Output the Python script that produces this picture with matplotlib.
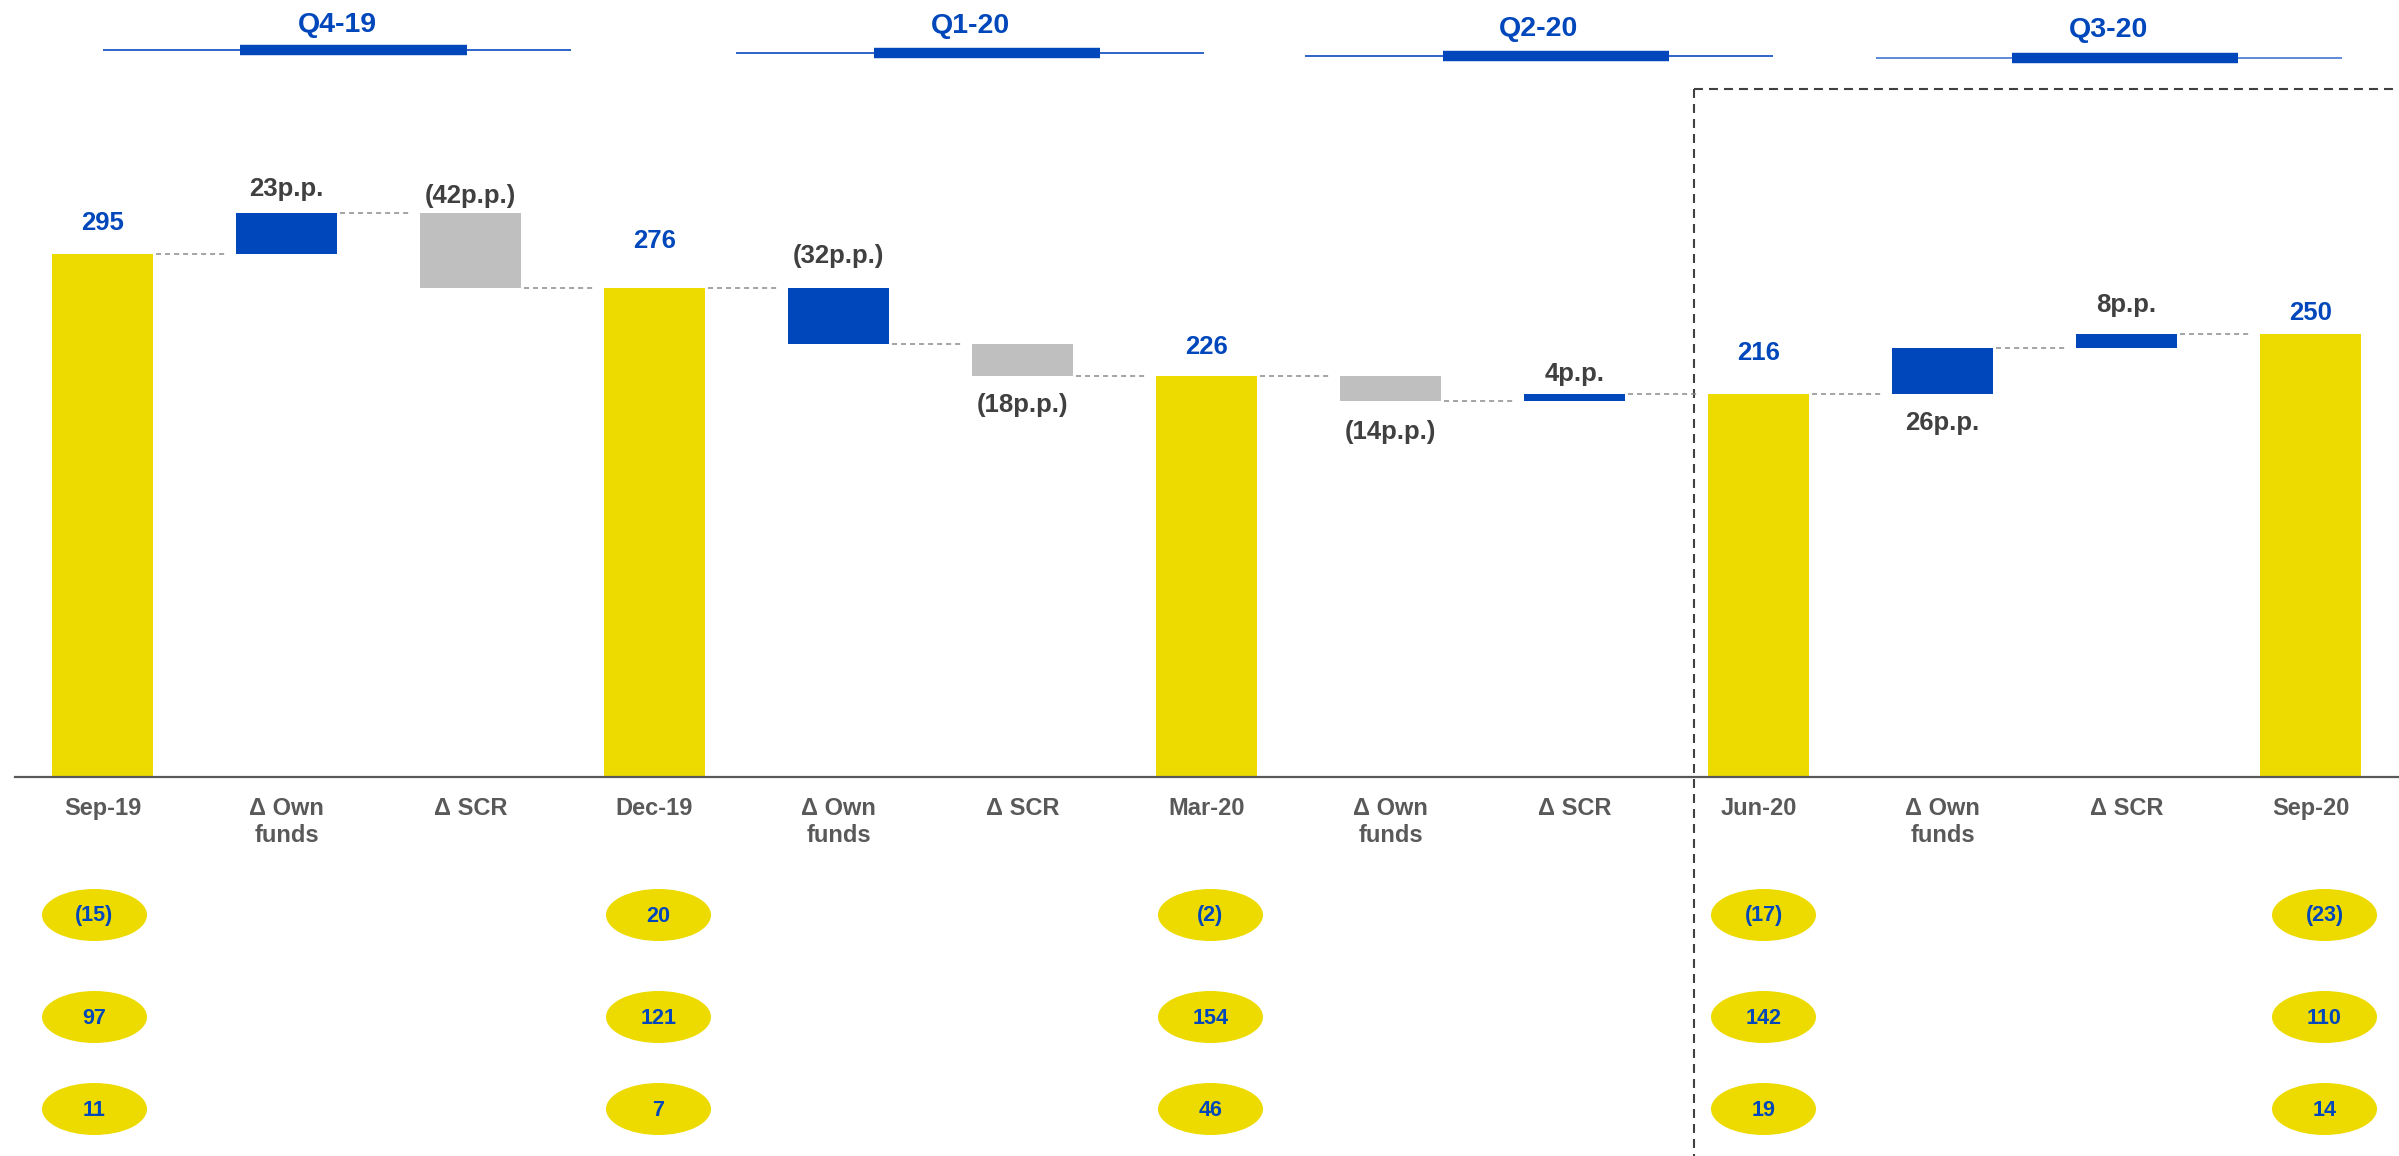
import matplotlib
matplotlib.use("Agg")
import matplotlib.pyplot as plt
from matplotlib.patches import Ellipse
from matplotlib.transforms import blended_transform_factory

plt.rcParams['font.family'] = ['Liberation Sans', 'DejaVu Sans']

# ---- data -------------------------------------------------------------
categories = ["Sep-19", "Δ Own\nfunds", "Δ SCR",
              "Dec-19", "Δ Own\nfunds", "Δ SCR",
              "Mar-20", "Δ Own\nfunds", "Δ SCR",
              "Jun-20", "Δ Own\nfunds", "Δ SCR",
              "Sep-20"]
quarters = ["Q4-19", "Q1-20", "Q2-20", "Q3-20"]
solvency_ratio = [295, 276, 226, 216, 250]        # period-end totals
own_funds_delta = [23, -32, -14, 26]              # p.p. per quarter
scr_delta = [-42, -18, 4, 8]                      # p.p. per quarter

circle_row1 = [-15, 20, -2, -17, -23]
circle_row2 = [97, 121, 154, 142, 110]
circle_row3 = [11, 7, 46, 19, 14]

# ---- styling ----------------------------------------------------------
YELLOW = "#EDDB00"
BLUE = "#0047BB"
GREY = "#BFBFBF"
DARK = "#404040"
LABEL_GREY = "#595959"

own_colors = [BLUE, BLUE, GREY, BLUE]
scr_colors = [GREY, GREY, BLUE, BLUE]
own_side = ["above", "above", "below", "below"]
scr_side = ["above", "below", "above", "above"]
own_off = [24, 32, 31, 29]
scr_off = [17, 29, 20, 29]
total_off = [31, 47, 29, 41, 21]
circle_dx = [-8, 4, 4, 5, 14]

W, H = 2399, 1156
PX_PER_CAT = 184.0
PX_PER_UNIT = 1.773
X0_PX = 102.5
BASE_PX = 777

fig = plt.figure(figsize=(W / 100, H / 100), dpi=100)
ax = fig.add_axes([0, 0, 1, 1])
ax.set_xlim(-X0_PX / PX_PER_CAT, (W - X0_PX) / PX_PER_CAT)
ax.set_ylim(-(H - BASE_PX) / PX_PER_UNIT, BASE_PX / PX_PER_UNIT)
ax.axis("off")

ax_px = fig.add_axes([0, 0, 1, 1], zorder=0)
ax_px.set_xlim(0, W)
ax_px.set_ylim(H, 0)
ax_px.axis("off")
ax_px.patch.set_alpha(0)
ax.set_zorder(1)
ax.patch.set_alpha(0)

cat_y = blended_transform_factory(ax.transData, ax_px.transData)

# ---- waterfall --------------------------------------------------------
bar_w = 101 / PX_PER_CAT
bars = []  # (x, bottom, top, color, kind, value, idx)
x = 0
for q in range(4):
    start = solvency_ratio[q]
    bars.append((x, 0, start, YELLOW, "total", start, q))
    lvl = start
    d = own_funds_delta[q]
    bars.append((x + 1, min(lvl, lvl + d), max(lvl, lvl + d), own_colors[q], "own", d, q))
    lvl += d
    d = scr_delta[q]
    bars.append((x + 2, min(lvl, lvl + d), max(lvl, lvl + d), scr_colors[q], "scr", d, q))
    x += 3
bars.append((x, 0, solvency_ratio[4], YELLOW, "total", solvency_ratio[4], 4))

levels = []
lvl = None
for (bx, b0, b1, col, kind, val, idx) in bars:
    ax.bar(bx, b1 - b0, bottom=b0, width=bar_w, color=col, linewidth=0, zorder=3)
    if kind == "total":
        lvl = val
        ax.annotate(str(val), (bx, val), xytext=(0, total_off[idx]),
                    textcoords="offset pixels", ha="center", va="center",
                    color=BLUE, fontsize=18.5, fontweight="bold")
    else:
        lvl = lvl + val
        txt = f"{val}p.p." if val > 0 else f"({abs(val)}p.p.)"
        side = own_side[idx] if kind == "own" else scr_side[idx]
        off = own_off[idx] if kind == "own" else scr_off[idx]
        if side == "above":
            anchor, dy = b1, off
        else:
            anchor, dy = b0, -off
        ax.annotate(txt, (bx, anchor), xytext=(0, dy), textcoords="offset pixels",
                    ha="center", va="center", color=DARK, fontsize=18.5,
                    fontweight="bold")
    levels.append(lvl)

# dashed connectors between consecutive bars
for i in range(len(bars) - 1):
    xa = bars[i][0] + bar_w / 2 + 3 / PX_PER_CAT
    xb = bars[i + 1][0] - bar_w / 2 - 10 / PX_PER_CAT
    ax.plot([xa, xb], [levels[i], levels[i]], color="#8C8C8C", lw=1.1,
            linestyle=(0, (3.3, 2.6)), zorder=2)

# baseline
ax.axhline(0, xmin=15 / W, xmax=1, color=LABEL_GREY, lw=1.6, zorder=4)

# category labels
for i, c in enumerate(categories):
    ax.text(i, 797, c, transform=cat_y, ha="center", va="top", fontsize=17,
            fontweight="bold", color=LABEL_GREY, linespacing=1.25)

# ---- quarter headers --------------------------------------------------
header_thin = [(103, 571), (736, 1204), (1305, 1773), (1876, 2342)]
header_thick = [(240, 467), (874, 1100), (1443, 1669), (2012, 2238)]
header_line_y = [50, 53, 56, 58]
header_text_y = [25, 26, 29, 30]
thin_colors = ["#2F63C9", "#2F63C9", "#2F63C9", "#5C8BDA"]
for q, name in enumerate(quarters):
    (t0, t1), (k0, k1) = header_thin[q], header_thick[q]
    ly = header_line_y[q]
    ax_px.plot([t0, t1], [ly, ly], color=thin_colors[q], lw=1.4,
               solid_capstyle="butt")
    ax_px.plot([k0, k1], [ly, ly], color=BLUE, lw=7.5, solid_capstyle="butt")
    ax_px.text((t0 + t1) / 2, header_text_y[q], name, ha="center", va="center",
               fontsize=20.5, fontweight="bold", color=BLUE)

# ---- highlighted current quarter box ----------------------------------
ax_px.plot([1694, 1694], [89, H], color=DARK, lw=1.5, linestyle=(0, (4.3, 2.9)))
ax_px.plot([1694, W], [89, 89], color=DARK, lw=1.5, linestyle=(0, (4.3, 2.9)))

# ---- circled figures below each period-end ----------------------------
def fmt(v):
    return f"({abs(v)})" if v < 0 else str(v)

row_y = [915, 1017, 1109]
total_pos = [0, 3, 6, 9, 12]
for row, vals in zip(row_y, [circle_row1, circle_row2, circle_row3]):
    for k, v in enumerate(vals):
        cx = total_pos[k] + circle_dx[k] / PX_PER_CAT
        e = Ellipse((cx, row), width=105 / PX_PER_CAT, height=52,
                    transform=cat_y, facecolor=YELLOW, edgecolor="none", zorder=3)
        ax.add_patch(e)
        ax.text(cx, row + 1, fmt(v), transform=cat_y, ha="center", va="center",
                fontsize=15.5, fontweight="bold", color=BLUE, zorder=4)

fig.savefig("out.png", dpi=100)
